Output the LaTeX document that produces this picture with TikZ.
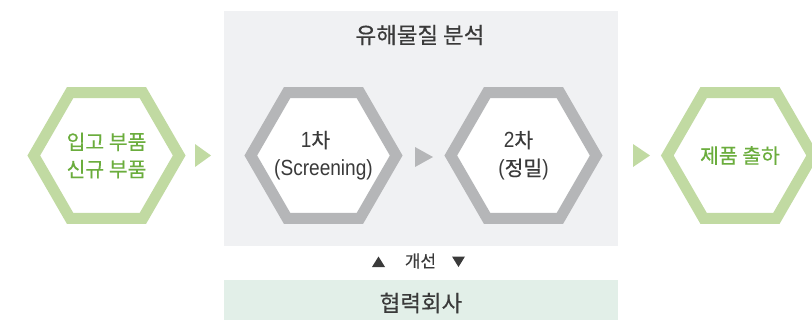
\documentclass[tikz,border=0pt]{standalone}
\usepackage{fontspec}
\setmainfont{Noto Sans CJK KR}[FakeBold=0.3]
\newfontfamily\lat{Liberation Sans}[FakeStretch=0.87]
\usetikzlibrary{shapes.geometric}
\definecolor{panelgray}{HTML}{F0F1F3}
\definecolor{hexgray}{HTML}{B5B6B8}
\definecolor{hexgreen}{HTML}{C1DAA2}
\definecolor{txtgreen}{HTML}{6BAD3D}
\definecolor{txtgray}{HTML}{3A3A3A}
\definecolor{barmint}{HTML}{E2EFE8}
\newcommand{\lt}[1]{{\lat\fontsize{22}{28}\selectfont #1}}
\begin{document}
\begin{tikzpicture}[x=1bp,y=-1bp,
  hexbase/.style={regular polygon, regular polygon sides=6, minimum size=145.4bp,
    inner sep=0pt, line width=11bp, fill=white},
  greenhex/.style={hexbase, draw=hexgreen},
  grayhex/.style={hexbase, draw=hexgray},
  greentext/.style={text=txtgreen, align=center, font=\fontsize{20.5}{27.5}\selectfont},
  graytext/.style={text=txtgray, align=center, font=\fontsize{20.5}{28}\selectfont},
  title/.style={text=txtgray, font=\fontsize{22.5}{26}\selectfont},
  small/.style={text=txtgray, font=\fontsize{17}{20}\selectfont}]
\useasboundingbox (0,0) rectangle (812,320);
\clip (0,0) rectangle (812,320);
\fill[panelgray] (224,11) rectangle (618,246);
\fill[barmint] (224,280) rectangle (618,320);
\node[title] (t) at (420,35) {유해물질 분석};
\node[title] (p) at (421,303) {협력회사};
\node[greenhex, label={[greentext]center:입고 부품\\신규 부품}] (in) at (106.5,155.5) {};
\node[grayhex, label={[graytext]center:\lt{1}차\rule{16bp}{0pt}\\\lt{(Screening)}}] (s1) at (323.5,155.5) {};
\node[grayhex, label={[graytext]center:\lt{2}차\rule{10bp}{0pt}\\\lt{(}정밀\lt{)}}] (s2) at (523.5,155.5) {};
\node[greenhex, label={[greentext]center:제품 출하}] (out) at (740,155.5) {};
\fill[hexgreen] (195,144) -- (211,155.5) -- (195,167) -- cycle;
\fill[hexgray] (415,147) -- (433,157) -- (415,167) -- cycle;
\fill[hexgreen] (633,144) -- (650,155.5) -- (633,167) -- cycle;
\node[small] (imp) at (420.5,261) {개선};
\fill[txtgray] (372,267) -- (378.5,256.5) -- (385,267) -- cycle;
\fill[txtgray] (452,256.5) -- (465,256.5) -- (458.5,267) -- cycle;
\end{tikzpicture}
\end{document}
